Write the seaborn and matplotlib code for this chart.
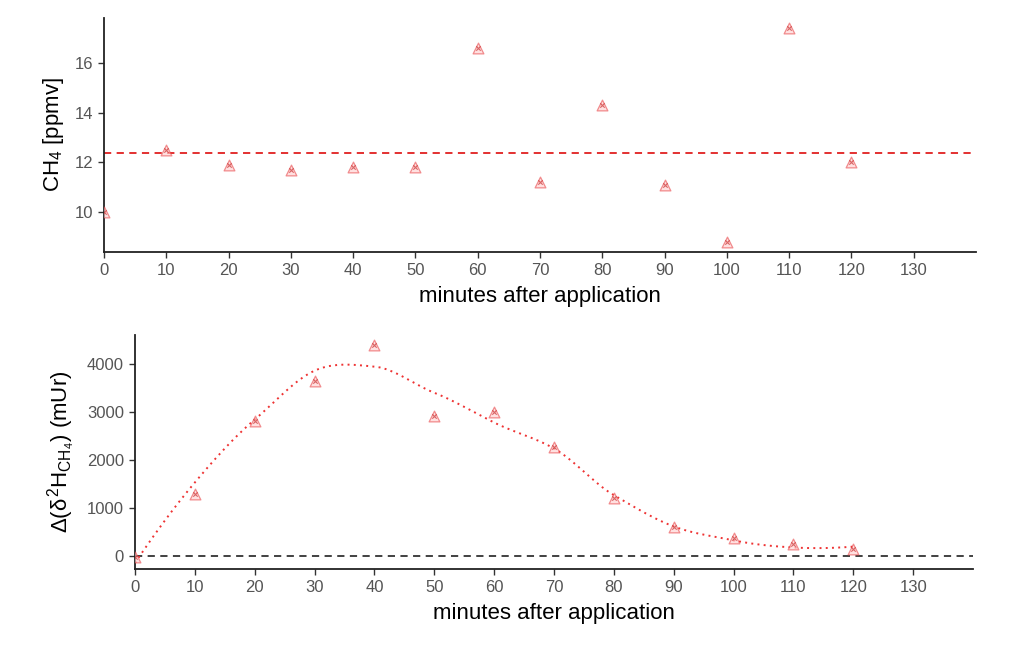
import numpy as np
import pandas as pd
import matplotlib
matplotlib.use("Agg")
import matplotlib.pyplot as plt
import seaborn as sns

# ---- data ----
minutes = [0, 10, 20, 30, 40, 50, 60, 70, 80, 90, 100, 110, 120]
ch4_ppmv = [10.0, 12.5, 11.9, 11.7, 11.8, 11.8, 16.6, 11.2, 14.3, 11.1, 8.8, 17.4, 12.0]
delta_d = [-30, 1300, 2800, 3650, 4400, 2920, 3000, 2260, 1200, 600, 380, 260, 150]
x_ticks = [0, 10, 20, 30, 40, 50, 60, 70, 80, 90, 100, 110, 120, 130]
ch4_ticks = [10, 12, 14, 16]
dd_ticks = [0, 1000, 2000, 3000, 4000]

sns.set_style("ticks")
plt.rcParams['font.family'] = ['Liberation Sans', 'DejaVu Sans']
plt.rcParams['mathtext.fontset'] = 'custom'
plt.rcParams['mathtext.rm'] = 'Liberation Sans'
plt.rcParams['mathtext.it'] = 'Liberation Sans'

RED = '#e8474a'
TICKC = '#555555'


def loess_local(x, y, x0, q, degree=2):
    d = np.abs(x - x0)
    h = np.sort(d)[q - 1] * 1.0001
    w = np.clip(1 - (d / h) ** 3, 0, None) ** 3
    X = np.vander(x - x0, degree + 1)
    W = np.sqrt(w)
    coef, *_ = np.linalg.lstsq(X * W[:, None], y * W, rcond=None)
    return coef[-1], coef[-2]          # value, slope at x0


def loess_interp(x, y, xs, span=0.75, degree=2):
    """loess evaluated at vertices (data x) and joined by cubic Hermite
    interpolation, as R's surface='interpolate' does."""
    x = np.asarray(x, float)
    y = np.asarray(y, float)
    q = int(np.floor(len(x) * span))
    vx = np.unique(x)
    vals = np.array([loess_local(x, y, v, q, degree) for v in vx])
    f, m = vals[:, 0], vals[:, 1]
    out = []
    for t in xs:
        i = min(np.searchsorted(vx, t, side='right') - 1, len(vx) - 2)
        i = max(i, 0)
        hseg = vx[i + 1] - vx[i]
        s = (t - vx[i]) / hseg
        h00 = 2 * s**3 - 3 * s**2 + 1
        h10 = s**3 - 2 * s**2 + s
        h01 = -2 * s**3 + 3 * s**2
        h11 = s**3 - s**2
        out.append(h00 * f[i] + h10 * hseg * m[i] + h01 * f[i + 1] + h11 * hseg * m[i + 1])
    return np.array(out)


df = pd.DataFrame({"minutes": minutes, "ch4": ch4_ppmv, "dd": delta_d})

fig = plt.figure(figsize=(10.16, 6.51), dpi=100)
ax1 = fig.add_axes([0.1024, 0.6129, 0.8582, 0.3595])
ax2 = fig.add_axes([0.1329, 0.1260, 0.8248, 0.3594])


def draw_points(ax, ycol):
    sns.scatterplot(data=df, x="minutes", y=ycol, ax=ax, marker="^", s=60,
                    facecolor=(1, 0.8, 0.8, 0.35), edgecolor=RED, linewidth=0.9,
                    alpha=0.6, legend=False, zorder=3)
    sns.scatterplot(data=df, x="minutes", y=ycol, ax=ax, marker="x", s=10,
                    color='#c83030', linewidth=0.8, alpha=0.7, legend=False, zorder=4)


# top panel
draw_points(ax1, "ch4")
ax1.axhline(np.mean(ch4_ppmv), color='#e02020', linestyle=(0, (4, 3)), linewidth=1.3, zorder=2)
ax1.set_xlim(0, 140)
ax1.set_ylim(8.4, 17.8)
ax1.set_yticks(ch4_ticks)
ax1.set_ylabel("CH$_4$ [ppmv]", fontsize=16, color='black', labelpad=6)

# bottom panel
xs = np.linspace(0, 120, 241)
smooth = loess_interp(minutes, delta_d, xs, span=0.55)
sns.lineplot(x=xs, y=smooth, ax=ax2, color='#ee3333', linestyle=(0, (1, 2.2)), linewidth=1.4, zorder=2)
draw_points(ax2, "dd")
ax2.axhline(0, color='#333333', linestyle=(0, (4, 3)), linewidth=1.3, zorder=1)
ax2.set_xlim(0, 140)
ax2.set_ylim(-270, 4600)
ax2.set_yticks(dd_ticks)
ax2.set_ylabel(r"$\Delta(\delta^2\mathrm{H}_{\mathrm{CH}_4})$ (mUr)", fontsize=16, color='black', labelpad=6)

for ax in (ax1, ax2):
    ax.set_xticks(x_ticks)
    ax.set_xlabel("minutes after application", fontsize=16, color='black', labelpad=6)
    ax.tick_params(axis='both', labelsize=12, labelcolor=TICKC, color='#333333', length=4, width=1, pad=4)
    for s in ('left', 'bottom'):
        ax.spines[s].set_linewidth(1.3)
        ax.spines[s].set_color('#222222')
    sns.despine(ax=ax)

fig.savefig("out.png", dpi=100)
